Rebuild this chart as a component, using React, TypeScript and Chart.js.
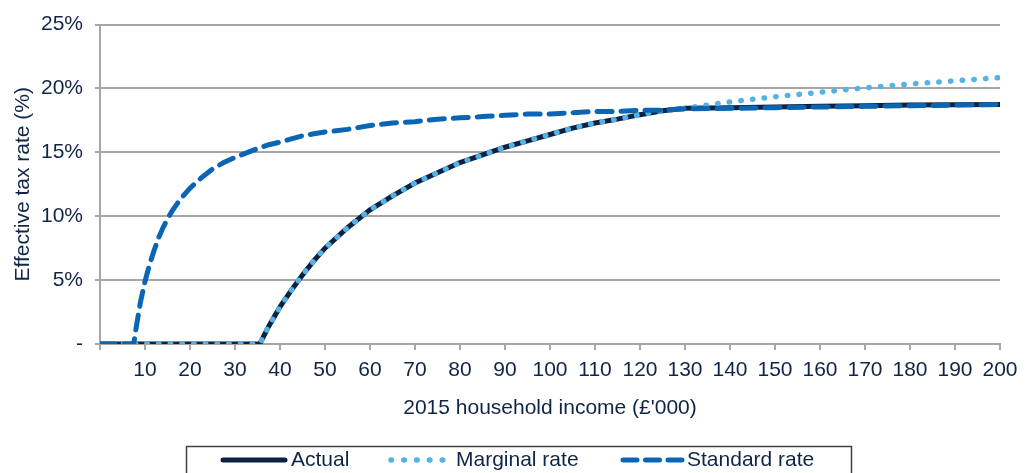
import React, { useEffect, useRef } from "react";
import { Chart, registerables } from "chart.js";

Chart.register(...registerables);

const income = [0, 5, 7.5, 8, 9, 10, 11, 12, 13, 14, 15, 16, 18, 20, 22.5, 25, 27.5, 30, 35, 35.5, 37.5, 40, 42.5, 45, 47.5, 50, 55, 60, 65, 70, 75, 80, 85, 90, 95, 100, 105, 110, 115, 120, 125, 130, 140, 150, 160, 170, 180, 190, 200];

const actualRate = [0, 0, 0, 0, 0, 0, 0, 0, 0, 0, 0, 0, 0, 0, 0, 0, 0, 0, 0, 0, 1.4, 2.9, 4.2, 5.4, 6.5, 7.5, 9.1, 10.5, 11.6, 12.6, 13.4, 14.2, 14.8, 15.4, 15.9, 16.4, 16.9, 17.3, 17.6, 17.95, 18.25, 18.45, 18.5, 18.55, 18.6, 18.65, 18.7, 18.72, 18.75];

const marginalRate = [0, 0, 0, 0, 0, 0, 0, 0, 0, 0, 0, 0, 0, 0, 0, 0, 0, 0, 0, 0, 1.4, 2.9, 4.2, 5.4, 6.5, 7.5, 9.1, 10.5, 11.6, 12.6, 13.4, 14.2, 14.8, 15.4, 15.9, 16.4, 16.9, 17.3, 17.6, 17.95, 18.25, 18.45, 18.95, 19.35, 19.7, 20.05, 20.35, 20.6, 20.85];

const standardRate = [0, 0, 0, 1.2, 3.3, 4.9, 6.2, 7.3, 8.3, 9.1, 9.8, 10.4, 11.4, 12.2, 13.0, 13.7, 14.2, 14.6, 15.3, 15.35, 15.6, 15.8, 16.05, 16.3, 16.45, 16.6, 16.8, 17.1, 17.3, 17.4, 17.6, 17.7, 17.8, 17.9, 18.0, 18.0, 18.1, 18.2, 18.2, 18.3, 18.3, 18.4, 18.45, 18.5, 18.55, 18.6, 18.65, 18.7, 18.75];

const seriesLabels = ["Actual", "Marginal rate", "Standard rate"];
const xTitle = "2015 household income (£'000)";
const yTitle = "Effective tax rate (%)";

const FONT = "'Liberation Sans', Arial, sans-serif";
const TEXT = "#0f2548";
const GRID = "#a6a6a6";
const C_ACTUAL = "#0b2243";
const C_MARGINAL = "#55b2e4";
const C_STANDARD = "#0a66b4";

const DOTS = [0.5, 11.2];
const DASHES = [15, 9];

const toPts = (vals: number[]) => income.map((x, i) => ({ x, y: vals[i] }));

const legendPlugin = {
  id: "customLegend",
  afterDraw(chart: any) {
    const ctx = chart.ctx;
    ctx.save();
    ctx.strokeStyle = "#404040";
    ctx.lineWidth = 1.5;
    ctx.strokeRect(186.5, 446.5, 665, 40);
    const y = 460;
    const items = [
      { label: seriesLabels[0], color: C_ACTUAL, dash: [] as number[], w: 5, x0: 223, x1: 285, tx: 291 },
      { label: seriesLabels[1], color: C_MARGINAL, dash: [0.5, 12.3], w: 5.5, x0: 391, x1: 452, tx: 456 },
      { label: seriesLabels[2], color: C_STANDARD, dash: [14, 8.5], w: 5, x0: 623, x1: 682, tx: 687 },
    ];
    ctx.lineCap = "round";
    for (const it of items) {
      ctx.beginPath();
      ctx.setLineDash(it.dash);
      ctx.strokeStyle = it.color;
      ctx.lineWidth = it.w;
      ctx.moveTo(it.x0, y);
      ctx.lineTo(it.x1, y);
      ctx.stroke();
      ctx.setLineDash([]);
      ctx.fillStyle = TEXT;
      ctx.font = `21px ${FONT}`;
      ctx.textBaseline = "middle";
      ctx.textAlign = "left";
      ctx.fillText(it.label, it.tx, y);
    }
    ctx.restore();
  },
};

export default function App() {
  const ref = useRef<HTMLCanvasElement | null>(null);
  useEffect(() => {
    document.body.style.margin = "0";
    const canvas = ref.current!;
    const chart = new Chart(canvas, {
      type: "line",
      data: {
        datasets: [
          {
            label: seriesLabels[2],
            data: toPts(standardRate),
            borderColor: C_STANDARD,
            borderWidth: 5,
            borderDash: DASHES,
            borderCapStyle: "round",
            pointRadius: 0,
            tension: 0,
            fill: false,
          },
          {
            label: seriesLabels[1],
            data: toPts(marginalRate),
            borderColor: C_MARGINAL,
            borderWidth: 5.5,
            borderDash: DOTS,
            borderCapStyle: "round",
            pointRadius: 0,
            tension: 0,
            fill: false,
          },
          {
            label: seriesLabels[0],
            data: toPts(actualRate),
            borderColor: C_ACTUAL,
            borderWidth: 5,
            borderCapStyle: "round",
            pointRadius: 0,
            tension: 0,
            fill: false,
          },
        ],
      },
      options: {
        animation: false,
        responsive: false,
        devicePixelRatio: 1,
        layout: { padding: { left: 0, right: 29, top: 23, bottom: 43 } },
        plugins: { legend: { display: false }, tooltip: { enabled: false } },
        scales: {
          x: {
            type: "linear",
            min: 0,
            max: 200,
            afterFit: (s: any) => {
              s.height = 86;
            },
            ticks: {
              stepSize: 10,
              autoSkip: false,
              maxRotation: 0,
              padding: 8,
              color: TEXT,
              font: { family: FONT, size: 21 },
              callback: (v: any) => (v === 0 ? "" : String(v)),
            },
            grid: {
              drawOnChartArea: false,
              drawTicks: true,
              tickLength: 6,
              color: GRID,
              lineWidth: 2,
            },
            border: { display: true, color: GRID, width: 2 },
            title: {
              display: true,
              text: xTitle,
              color: TEXT,
              font: { family: FONT, size: 21 },
              padding: { top: 0, bottom: 9 },
            },
          },
          y: {
            min: 0,
            max: 25,
            afterFit: (s: any) => {
              s.width = 100;
            },
            ticks: {
              stepSize: 5,
              padding: 12,
              color: TEXT,
              font: { family: FONT, size: 21 },
              callback: (v: any) => (v === 0 ? "-" : v + "%"),
            },
            grid: {
              drawTicks: true,
              tickLength: 5,
              color: GRID,
              lineWidth: 2,
            },
            border: { display: true, color: GRID, width: 2 },
            title: {
              display: true,
              text: yTitle,
              color: TEXT,
              font: { family: FONT, size: 21 },
              padding: { top: 11, bottom: 0 },
            },
          },
        },
      },
      plugins: [legendPlugin],
    } as any);
    return () => chart.destroy();
  }, []);
  return (
    <div style={{ width: 1029, height: 473 }}>
      <canvas ref={ref} width={1029} height={473} style={{ display: "block" }} />
    </div>
  );
}
